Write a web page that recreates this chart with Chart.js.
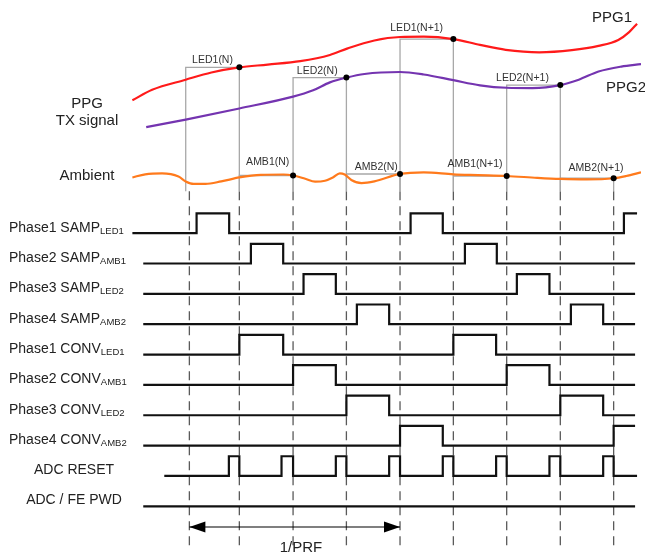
<!DOCTYPE html>
<html>
<head>
    <title>Temporização PPG</title>
    <script src="https://cdn.jsdelivr.net/npm/chart.js"></script>
    <style>
        body { margin: 0; background: #fff; }
        canvas { display: block; }
    </style>
</head>
<body>
    <canvas id="grafico" width="645" height="553"></canvas>

    <script>
        // tempos (mesma escala do eixo x) das fronteiras entre janelas de amostragem
        const fronteiras = [187.7, 238.3, 292.7, 346.7, 401, 455, 509, 563.3, 617.3];

        // amostras marcadas nas curvas
        const amostras = ['LED1(N)', 'AMB1(N)', 'LED2(N)', 'AMB2(N)', 'LED1(N+1)', 'AMB1(N+1)', 'LED2(N+1)', 'AMB2(N+1)'];
        const inicioAmostra = [184, 238.3, 292.7, 346.7, 401, 455, 509, 563.3];
        const nivelAmostra = [64.3, 174, 74.7, 172.5, 35.6, 174.5, 82.3, 176.8];

        // curvas analogicas: tempo e nivel
        const ppg1X = [130, 150, 184, 210, 238.3, 267, 300, 330, 348, 375, 401, 425, 455, 482, 508, 542, 575, 602, 622, 633, 641];
        const ppg1Y = [97.7, 87, 76.8, 69.5, 64.3, 61.5, 58, 51.7, 45, 37, 33.5, 33.2, 35.6, 41.5, 46.5, 49, 46.8, 42.5, 36.5, 28.5, 20];

        const ppg2X = [144, 184, 238.3, 292.7, 313, 330, 346.7, 365, 401, 425, 455, 482, 509, 535, 563.3, 582, 602, 625, 645];
        const ppg2Y = [125, 117.3, 106, 94, 87.5, 79.5, 74.7, 71, 69, 71.5, 77.3, 82.5, 85, 85.3, 82.3, 76.8, 68.5, 63.5, 61];

        const ambX = [130, 143, 160, 176.7, 184, 192, 204, 220, 238.3, 260, 283, 292.7, 305, 315, 325, 333, 340, 345, 351.7, 362, 375, 401, 425, 455, 480, 509, 540, 563.3, 590, 617.3, 630, 645];
        const ambY = [176, 172.8, 171.8, 175, 180, 182.6, 182.6, 180, 176, 173.3, 173, 174, 177.3, 180.2, 179.3, 176, 171.8, 173, 178.5, 181.7, 180, 172.4, 170.8, 172.8, 173.6, 174.5, 176.4, 177.5, 178, 176.8, 174.5, 170.8];

        // sinais digitais: nome, indice, bordas [inicio, transicoes..., fim] comecando em nivel baixo
        const sinais = ['Phase1 SAMP', 'Phase2 SAMP', 'Phase3 SAMP', 'Phase4 SAMP', 'Phase1 CONV', 'Phase2 CONV', 'Phase3 CONV', 'Phase4 CONV', 'ADC RESET', 'ADC / FE PWD'];
        const indices = ['LED1', 'AMB1', 'LED2', 'AMB2', 'LED1', 'AMB1', 'LED2', 'AMB2', '', ''];
        const bordas = [
            [130, 195, 228, 411.7, 444.3, 627.7, 641],
            [141, 250, 282.7, 466.7, 499, 639],
            [141, 303.3, 336, 519.3, 552.3, 639],
            [141, 357.3, 390, 574, 606.7, 639],
            [141, 238.3, 282.7, 455, 498.3, 639],
            [141, 292.7, 336, 509, 552.3, 639],
            [141, 346.7, 390, 563.3, 606.7, 639],
            [141, 401, 444.3, 617.3, 639],
            [162.3, 227.7, 238.3, 281, 292.7, 336, 346.7, 390, 401, 444.3, 455, 498.3, 509, 552.3, 563.3, 606.7, 617.3, 641],
            [141, 639]
        ];

        const fonte = '"Liberation Sans", Arial, sans-serif';
        const linhaBase = k => 232.5 + 30.8 * k;
        const ALTURA = 20;
        const TOPO_TRACO = 190;

        function pontos(xs, ys) {
            return xs.map((x, i) => ({ x: x, y: ys[i] }));
        }

        function degraus(b, k) {
            const baixo = linhaBase(k), alto = baixo - ALTURA;
            const pts = [{ x: b[0], y: baixo }];
            let nivel = 0;
            for (let i = 1; i < b.length - 1; i++) {
                pts.push({ x: b[i], y: nivel ? alto : baixo });
                nivel = 1 - nivel;
                pts.push({ x: b[i], y: nivel ? alto : baixo });
            }
            pts.push({ x: b[b.length - 1], y: nivel ? alto : baixo });
            return pts;
        }

        const datasets = [];

        // pontos pretos nas amostras
        datasets.push({
            type: 'scatter',
            data: amostras.map((a, i) => ({ x: fronteiras[i + 1], y: nivelAmostra[i] })),
            showLine: false,
            pointRadius: 3,
            pointBackgroundColor: '#000',
            pointBorderWidth: 0,
            order: 0
        });

        // curvas
        [[ppg1X, ppg1Y, '#ff1a1a'], [ppg2X, ppg2Y, '#7434b0'], [ambX, ambY, '#ff7a1c']].forEach(c => {
            datasets.push({
                data: pontos(c[0], c[1]),
                borderColor: c[2],
                borderWidth: 2.2,
                cubicInterpolationMode: 'monotone',
                pointRadius: 0,
                order: 1
            });
        });

        // colchetes cinza das amostras
        amostras.forEach((a, i) => {
            datasets.push({
                data: [
                    { x: inicioAmostra[i], y: TOPO_TRACO },
                    { x: inicioAmostra[i], y: nivelAmostra[i] },
                    { x: fronteiras[i + 1], y: nivelAmostra[i] },
                    { x: fronteiras[i + 1], y: TOPO_TRACO }
                ],
                borderColor: '#a8a8a8',
                borderWidth: 1.3,
                tension: 0,
                pointRadius: 0,
                order: 3
            });
        });

        // linhas tracejadas
        fronteiras.forEach(f => {
            datasets.push({
                data: [{ x: f, y: TOPO_TRACO }, { x: f, y: 553 }],
                borderColor: '#5a5a5a',
                borderWidth: 1.3,
                borderDash: [9, 6],
                pointRadius: 0,
                order: 4
            });
        });

        // sinais digitais
        bordas.forEach((b, k) => {
            datasets.push({
                data: degraus(b, k),
                borderColor: '#111',
                borderWidth: 2.2,
                tension: 0,
                pointRadius: 0,
                order: 2
            });
        });

        // seta 1/PRF
        const yPRF = 530.7;
        datasets.push({
            data: [{ x: fronteiras[0], y: yPRF }, { x: fronteiras[4], y: yPRF }],
            borderColor: '#000',
            borderWidth: 1.2,
            pointRadius: 0,
            order: 2
        });

        const textos = {
            id: 'textos',
            afterDatasetsDraw(chart) {
                const ctx = chart.ctx;
                const sx = chart.scales.x, sy = chart.scales.y;
                const px = v => sx.getPixelForValue(v);
                const py = v => sy.getPixelForValue(v);
                ctx.save();
                ctx.textBaseline = 'alphabetic';

                // pontas da seta
                const y = py(yPRF);
                ctx.fillStyle = '#000';
                [[px(fronteiras[0]), 1], [px(fronteiras[4]), -1]].forEach(p => {
                    ctx.beginPath();
                    ctx.moveTo(p[0], y);
                    ctx.lineTo(p[0] + p[1] * 16, y - 5.5);
                    ctx.lineTo(p[0] + p[1] * 16, y + 5.5);
                    ctx.closePath();
                    ctx.fill();
                });

                ctx.fillStyle = '#222';
                ctx.font = '15px ' + fonte;
                ctx.textAlign = 'center';
                ctx.fillText('1/PRF', 301, 552);
                ctx.fillText('PPG', 87, 108);
                ctx.fillText('TX signal', 87, 124.5);
                ctx.fillText('Ambient', 87, 180);
                ctx.textAlign = 'left';
                ctx.fillText('PPG1', 592, 22);
                ctx.fillText('PPG2', 606, 92);

                // rotulos das amostras
                const dx = [0, 1.5, -2.5, 3, -10, -5, -11, 9];
                const acima = [4.3, 10.7, 3.7, 4.4, 8, 9, 4.3, 7.5];
                ctx.font = '10.5px ' + fonte;
                ctx.fillStyle = '#333';
                ctx.textAlign = 'center';
                amostras.forEach((a, i) => {
                    const cx = (px(inicioAmostra[i]) + px(fronteiras[i + 1])) / 2 + dx[i];
                    ctx.fillText(a, cx, py(nivelAmostra[i]) - acima[i]);
                });

                // nomes dos sinais
                ctx.fillStyle = '#222';
                sinais.forEach((s, k) => {
                    const base = py(linhaBase(k));
                    if (indices[k]) {
                        ctx.textAlign = 'left';
                        ctx.font = '14px ' + fonte;
                        ctx.fillText(s, 9, base - 1.5);
                        const w = ctx.measureText(s).width;
                        ctx.font = '9.5px ' + fonte;
                        ctx.fillText(indices[k], 9 + w, base + 0.5);
                    } else {
                        ctx.textAlign = 'center';
                        ctx.font = '14px ' + fonte;
                        ctx.fillText(s, 74, base - 2);
                    }
                });
                ctx.restore();
            }
        };

        new Chart(document.getElementById('grafico'), {
            type: 'line',
            data: { datasets: datasets },
            options: {
                responsive: false,
                animation: false,
                devicePixelRatio: 1,
                layout: { padding: 0 },
                parsing: true,
                plugins: { legend: { display: false }, tooltip: { enabled: false } },
                scales: {
                    x: { type: 'linear', min: 0, max: 645, display: false },
                    y: { type: 'linear', min: 0, max: 553, reverse: true, display: false }
                }
            },
            plugins: [textos]
        });
    </script>
</body>
</html>
